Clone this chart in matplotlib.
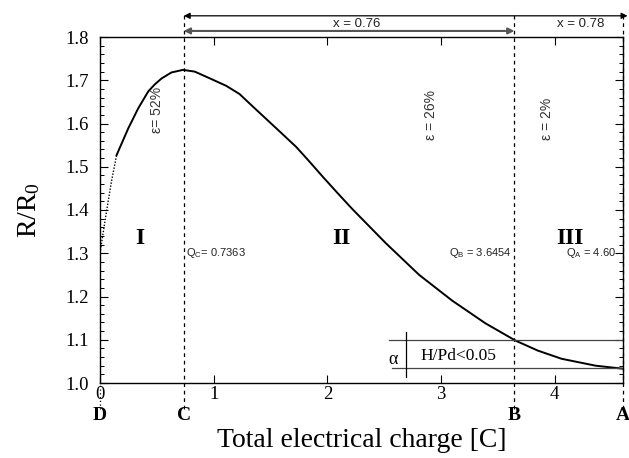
import matplotlib
matplotlib.use("Agg")
import matplotlib.pyplot as plt
import numpy as np

plt.rcParams['font.family'] = 'Liberation Serif'
plt.rcParams['mathtext.fontset'] = 'custom'
plt.rcParams['mathtext.rm'] = 'Liberation Serif'
plt.rcParams['mathtext.it'] = 'Liberation Serif:italic'

# dotted start of the curve
x_dot = [0.0, 0.05, 0.10, 0.146]
y_dot = [1.30, 1.385, 1.465, 1.527]
# measured curve R/R0 vs charge
x_sol = [0.146, 0.249, 0.336, 0.424, 0.48, 0.541, 0.628, 0.73, 0.833, 0.965, 1.111, 1.228, 1.345,
         1.55, 1.725, 1.842, 1.959, 2.09, 2.22, 2.515, 2.807, 3.10, 3.39, 3.655, 3.85, 4.06,
         4.36, 4.60]
y_sol = [1.527, 1.589, 1.635, 1.674, 1.690, 1.704, 1.718, 1.724, 1.720, 1.7045, 1.687, 1.668, 1.639,
         1.589, 1.546, 1.512, 1.477, 1.439, 1.402, 1.323, 1.250, 1.190, 1.138, 1.098, 1.075,
         1.056, 1.040, 1.033]

Q_C, Q_B, Q_A = 0.7363, 3.6454, 4.60
xticks = [0, 1, 2, 3, 4]
yticks = [1.0, 1.1, 1.2, 1.3, 1.4, 1.5, 1.6, 1.7, 1.8]

fig = plt.figure(figsize=(6.29, 4.58), dpi=100)
ax = fig.add_axes([100/629, 75/458, 523/629, 346/458])
ax.plot(x_dot, y_dot, color='k', lw=1, ls=(0, (1, 1.2)))
ax.plot(x_sol, y_sol, color='k', lw=1.4)
ax.set_xlim(0, 4.6)
ax.set_ylim(1.0, 1.8)
ax.set_xticks(xticks)
ax.set_yticks(yticks)
ax.set_yticks(np.arange(1.0, 1.8, 0.02), minor=True)
ax.yaxis.set_major_formatter(matplotlib.ticker.FormatStrFormatter('%.1f'))
ax.tick_params(direction='in', top=True, right=True, labelsize=13.5, length=6, width=0.8)
ax.tick_params(which='minor', direction='in', right=True, length=3, width=0.7)
ax.tick_params(axis='x', pad=2)
ax.tick_params(axis='y', pad=8)
for s in ax.spines.values():
    s.set_linewidth(1)

# vertical dashed boundaries
y_top = 1.851
y_low = 0.94
for q in [Q_C, Q_B, Q_A]:
    ax.plot([q, q], [y_low, y_top], color='k', lw=0.9, ls=(0, (3, 3)), clip_on=False)
ax.plot([0, 0], [y_low, 1.0], color='k', lw=0.9, ls=(0, (1, 2)), clip_on=False)

# top arrows
ax.annotate('', xy=(4.64, 1.849), xytext=(Q_C, 1.849), annotation_clip=False,
            arrowprops=dict(arrowstyle='<|-|>', color='k', lw=0.9, shrinkA=0, shrinkB=0,
                            mutation_scale=9))
ax.annotate('', xy=(Q_B, 1.814), xytext=(Q_C, 1.814), annotation_clip=False,
            arrowprops=dict(arrowstyle='<|-|>', color='#555555', lw=1.5, shrinkA=0, shrinkB=0,
                            mutation_scale=9))
sans = 'Liberation Sans'
ax.text(2.26, 1.831, 'x = 0.76', family=sans, fontsize=9.5, ha='center', va='center', color='#222222')
ax.text(4.23, 1.831, 'x = 0.78', family=sans, fontsize=9.5, ha='center', va='center', color='#222222')

# epsilon labels
ax.text(0.50, 1.631, '\u03b5= 52%', family=sans, fontsize=10, rotation=90, ha='center', va='center', color='#333333')
ax.text(2.915, 1.619, '\u03b5 = 26%', family=sans, fontsize=10, rotation=90, ha='center', va='center', color='#333333')
ax.text(3.93, 1.610, '\u03b5 = 2%', family=sans, fontsize=10, rotation=90, ha='center', va='center', color='#333333')

# region numerals
for xr, lab in [(0.35, 'I'), (2.12, 'II'), (4.13, 'III')]:
    ax.text(xr, 1.335, lab, fontsize=17, fontweight='bold', ha='center', va='center')

# Q labels
ax.text(Q_C + 0.02, 1.30, r'Q$_{\mathregular{C}}$= 0.7363', family=sans, fontsize=8, ha='left', va='center', color='#222222')
ax.text(Q_B - 0.03, 1.30, r'Q$_{\mathregular{B}}$ = 3.6454', family=sans, fontsize=8, ha='right', va='center', color='#222222')
ax.text(Q_A - 0.06, 1.30, r'Q$_{\mathregular{A}}$ = 4.60', family=sans, fontsize=8, ha='right', va='center', color='#222222')

# H/Pd band
ax.plot([2.54, 4.6], [1.10, 1.10], color='#444444', lw=0.9)
ax.plot([2.57, 4.6], [1.035, 1.035], color='#444444', lw=0.9)
ax.plot([2.69, 2.69], [1.015, 1.117], color='k', lw=0.9)
ax.text(2.62, 1.055, '\u03b1', fontsize=13, ha='right', va='center')
ax.text(2.82, 1.062, 'H/Pd<0.05', fontsize=12.5, ha='left', va='center')

# point letters
for xp, lab in [(0, 'D'), (Q_C, 'C'), (Q_B, 'B'), (Q_A, 'A')]:
    ax.text(xp, 0.926, lab, fontsize=14, fontweight='bold', ha='center', va='center', clip_on=False)

ax.set_xlabel('Total electrical charge [C]', fontsize=20, labelpad=18)
ax.set_ylabel(r'R/R$_{\mathregular{0}}$', fontsize=20, labelpad=17)

fig.savefig('out.png', dpi=100)
